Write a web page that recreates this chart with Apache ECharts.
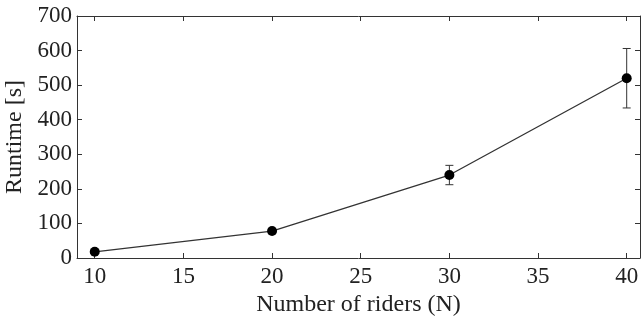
<!DOCTYPE html>
<html><head><meta charset="utf-8">
<script src="https://cdn.jsdelivr.net/npm/echarts@6/dist/echarts.min.js"></script>
<style>html,body{margin:0;padding:0;background:#fff}#c{width:642px;height:320px}</style>
</head><body><div id="c"></div>
<script>
var riders = [10, 20, 30, 40];
var runtime = [18, 78, 240, 520];
var errLow = [18, 78, 212, 434];
var errHigh = [18, 78, 268, 606];
var xTicks = [10, 15, 20, 25, 30, 35, 40];

var font = '"Times New Roman", "Liberation Serif", Times, serif';
var chart = echarts.init(document.getElementById('c'));
var axisCommon = {
  axisLine: {show: true, onZero: false, lineStyle: {color: '#333', width: 1}},
  axisTick: {show: true, inside: true, length: 5, lineStyle: {color: '#333'}},
  splitLine: {show: false}
};
chart.setOption({
  animation: false,
  grid: {left: 77, top: 16, right: 2, bottom: 62, outerBoundsMode: 'none', containLabel: false},
  xAxis: [
    Object.assign({}, axisCommon, {
      type: 'value', min: 9, max: 40.75, position: 'bottom',
      name: 'Number of riders (N)', nameLocation: 'middle', nameGap: 33,
      nameTextStyle: {fontFamily: font, fontSize: 24, color: '#222'},
      axisTick: {show: true, inside: true, length: 5, lineStyle: {color: '#333'}, customValues: xTicks},
      axisLabel: {fontFamily: font, fontSize: 23, color: '#222', margin: 7, customValues: xTicks}
    }),
    Object.assign({}, axisCommon, {
      type: 'value', min: 9, max: 40.75, position: 'top',
      axisTick: {show: true, inside: true, length: 5, lineStyle: {color: '#333'}, customValues: xTicks},
      axisLabel: {show: false}
    })
  ],
  yAxis: [
    Object.assign({}, axisCommon, {
      type: 'value', min: 0, max: 700, interval: 100, position: 'left',
      name: 'Runtime [s]', nameLocation: 'middle', nameGap: 48, nameRotate: 90,
      nameTextStyle: {fontFamily: font, fontSize: 24, color: '#222'},
      axisLabel: {fontFamily: font, fontSize: 23, color: '#222', margin: 5}
    }),
    Object.assign({}, axisCommon, {
      type: 'value', min: 0, max: 700, interval: 100, position: 'right',
      axisLabel: {show: false}
    })
  ],
  series: [
    {
      type: 'line',
      data: riders.map(function (r, i) { return [r, runtime[i]]; }),
      symbol: 'circle', symbolSize: 10,
      itemStyle: {color: '#000'},
      lineStyle: {color: '#333', width: 1.3},
      z: 3
    },
    {
      type: 'custom',
      data: riders.map(function (r, i) { return [r, errLow[i], errHigh[i]]; }),
      renderItem: function (params, api) {
        var x = api.value(0);
        var lo = api.coord([x, api.value(1)]);
        var hi = api.coord([x, api.value(2)]);
        if (api.value(2) - api.value(1) < 1) return null;
        var hw = 4;
        var st = {stroke: '#333', lineWidth: 1};
        return {
          type: 'group',
          children: [
            {type: 'line', shape: {x1: lo[0], y1: lo[1], x2: hi[0], y2: hi[1]}, style: st},
            {type: 'line', shape: {x1: lo[0] - hw, y1: lo[1], x2: lo[0] + hw, y2: lo[1]}, style: st},
            {type: 'line', shape: {x1: hi[0] - hw, y1: hi[1], x2: hi[0] + hw, y2: hi[1]}, style: st}
          ]
        };
      },
      z: 2
    }
  ]
});
</script></body></html>
